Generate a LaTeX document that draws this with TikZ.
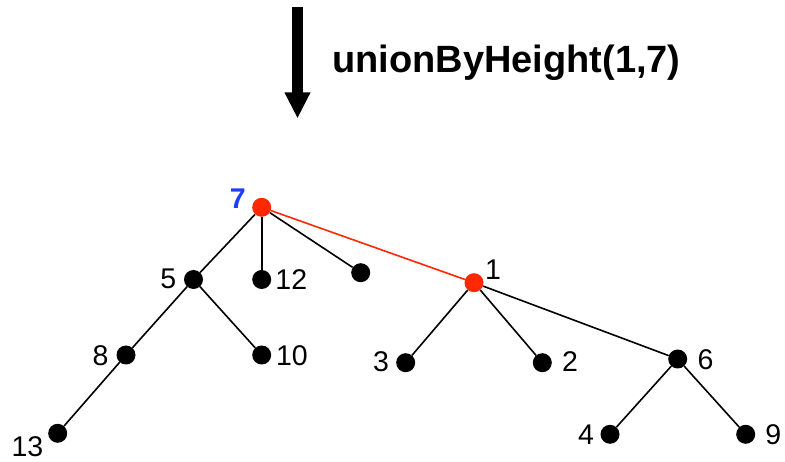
\documentclass[tikz,border=0pt]{standalone}
\usepackage{fontspec}
\setmainfont{Liberation Sans}
\usetikzlibrary{arrows.meta}
\definecolor{rootred}{RGB}{255,40,0}
\definecolor{labelblue}{RGB}{30,60,255}
\begin{document}
\begin{tikzpicture}[x=1pt,y=-1pt,
  vertex/.style={circle,fill=black,inner sep=0pt,minimum size=19pt},
  rootvertex/.style={vertex,fill=rootred},
  lbl/.style={inner sep=0pt,font=\fontsize{28.5}{28.5}\selectfont},
  edge/.style={line width=1.6pt},
  rootedge/.style={edge,draw=rootred},
]
\useasboundingbox (0,0) rectangle (785,462);

% operation arrow and caption
\coordinate (arrtop) at (297.5,7);
\coordinate (arrtip) at (297.5,118.5);
\draw[line width=11.5pt,-{Triangle[width=24pt,length=26pt]}] (arrtop) -- (arrtip);
\node[anchor=base west,inner sep=0pt,font=\bfseries\fontsize{38}{38}\selectfont] (caption) at (332,72.5) {unionByHeight(1,7)};

% vertices
\node[rootvertex] (n7) at (261.7,207.3) {};
\node[vertex] (n5) at (193.5,279.5) {};
\node[vertex] (n12) at (261.7,279.5) {};
\node[vertex] (nx) at (360.7,272.7) {};
\node[rootvertex] (n1) at (474,282.7) {};
\node[vertex] (n8) at (126,355) {};
\node[vertex] (n10) at (261.7,355) {};
\node[vertex] (n3) at (405.7,362.7) {};
\node[vertex] (n2) at (542.3,362.7) {};
\node[vertex] (n6) at (677.7,359) {};
\node[vertex] (n13) at (57.7,433.3) {};
\node[vertex] (n4) at (610,434.3) {};
\node[vertex] (n9) at (745.7,434.3) {};

% labels
\node[lbl,font=\bfseries\fontsize{28.5}{28.5}\selectfont,text=labelblue] (l7) at (237.7,198.3) {7};
\node[lbl] (l5) at (168.3,279.3) {5};
\node[lbl] (l12) at (291.3,279.3) {12};
\node[lbl] (l1) at (493,270) {1};
\node[lbl] (l3) at (381,362) {3};
\node[lbl] (l2) at (570,362) {2};
\node[lbl] (l8) at (100.5,355.8) {8};
\node[lbl] (l10) at (292,355.8) {10};
\node[lbl] (l13) at (27.5,447) {13};
\node[lbl] (l6) at (705.5,360) {6};
\node[lbl] (l4) at (586,435) {4};
\node[lbl] (l9) at (773.3,435) {9};

% edges
\draw[edge] (n7) -- (n5);
\draw[edge] (n7) -- (n12);
\draw[edge] (n7) -- (nx);
\draw[rootedge] (n7) -- (n1);
\draw[edge] (n5) -- (n8);
\draw[edge] (n5) -- (n10);
\draw[edge] (n8) -- (n13);
\draw[edge] (n1) -- (n3);
\draw[edge] (n1) -- (n2);
\draw[edge] (n1) -- (n6);
\draw[edge] (n6) -- (n4);
\draw[edge] (n6) -- (n9);
\end{tikzpicture}
\end{document}
